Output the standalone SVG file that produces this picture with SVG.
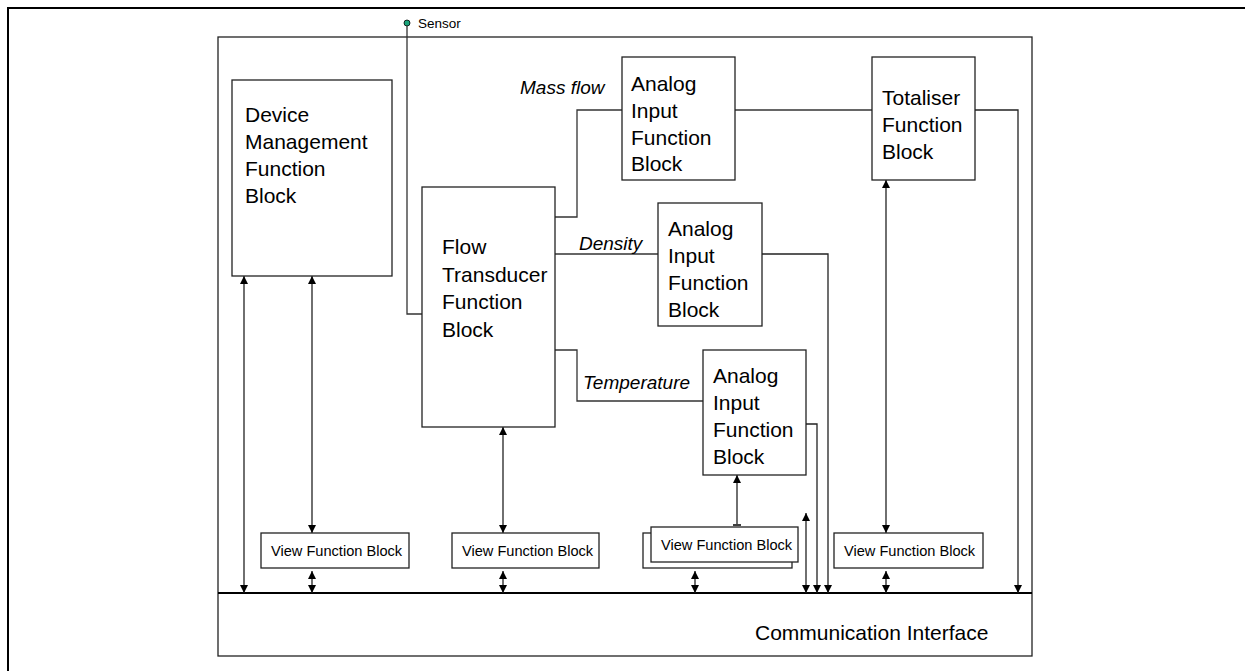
<svg xmlns="http://www.w3.org/2000/svg" width="1245" height="671" viewBox="0 0 1245 671">
<style>
.box{fill:#fff;stroke:#222;stroke-width:1.3}
.big{font-family:"Liberation Sans",Arial,sans-serif;font-size:21px;fill:#000}
.small{font-family:"Liberation Sans",Arial,sans-serif;font-size:14.6px;fill:#000}
.lbl{font-family:"Liberation Sans",Arial,sans-serif;font-size:19px;font-style:italic;fill:#000}
.ln{fill:none;stroke:#333;stroke-width:1.3}
.arr{fill:none;stroke:#222;stroke-width:1.3;marker-end:url(#ah)}
.darr{fill:none;stroke:#222;stroke-width:1.3;marker-start:url(#ahs);marker-end:url(#ah)}
</style>
<defs>
<marker id="ah" viewBox="0 0 10 10" refX="10" refY="5" markerWidth="8" markerHeight="8" markerUnits="userSpaceOnUse" orient="auto"><path d="M0,0 L10,5 L0,10 z" fill="#000"/></marker>
<marker id="ahs" viewBox="0 0 10 10" refX="0" refY="5" markerWidth="8" markerHeight="8" markerUnits="userSpaceOnUse" orient="auto"><path d="M10,0 L0,5 L10,10 z" fill="#000"/></marker>
</defs>
<rect width="1245" height="671" fill="#fff"/>
<path d="M8,671 V8 H1245" fill="none" stroke="#000" stroke-width="2"/>
<g id="main"><rect x="218" y="37" width="814" height="619" fill="none" stroke="#222" stroke-width="1.3"/></g>
<g id="comm"><line x1="218" y1="593" x2="1032" y2="593" stroke="#000" stroke-width="2"/><text class="big" x="755" y="640">Communication Interface</text></g>
<g id="sensor"><circle cx="407" cy="23" r="3" fill="#1aa37a" stroke="#000" stroke-width="0.8"/><text class="small" x="418" y="28" style="font-size:13.5px">Sensor</text></g>
<g id="connectors">
<path class="ln" d="M407,26 V314 H422"/>
<path class="ln" d="M555,217 H577 V110 H622"/>
<path class="ln" d="M735,110 H872"/>
<path class="arr" d="M975,110 H1018 V593"/>
<path class="ln" d="M555,254 H658"/>
<path class="arr" d="M762,254 H828 V593"/>
<path class="ln" d="M555,350 H577 V401 H703"/>
<path class="arr" d="M806,424 H817 V593"/>
<path class="darr" d="M806,513 V593"/>
<path class="darr" d="M244,276 V593"/>
<path class="darr" d="M312,276 V533"/>
<path class="darr" d="M503,427 V533"/>
<path class="darr" d="M886,180 V533"/>
<path class="arr" d="M737,524 V475"/>
<line x1="733" y1="525" x2="741" y2="525" stroke="#000" stroke-width="1.5"/>
<path class="darr" d="M312,571 V593"/>
<path class="darr" d="M503,571 V593"/>
<path class="darr" d="M695,571 V593"/>
<path class="darr" d="M886,571 V593"/>
</g>
<g id="device"><rect class="box" x="232" y="80" width="160" height="196"/>
<text class="big"><tspan x="245" y="122">Device</tspan><tspan x="245" y="149">Management</tspan><tspan x="245" y="176">Function</tspan><tspan x="245" y="203">Block</tspan></text></g>
<g id="flow"><rect class="box" x="422" y="187" width="133" height="240"/>
<text class="big"><tspan x="442" y="254">Flow</tspan><tspan x="442" y="282">Transducer</tspan><tspan x="442" y="309">Function</tspan><tspan x="442" y="337">Block</tspan></text></g>
<g id="ai1"><rect class="box" x="622" y="57" width="113" height="123"/>
<text class="big"><tspan x="631" y="91">Analog</tspan><tspan x="631" y="118">Input</tspan><tspan x="631" y="145">Function</tspan><tspan x="631" y="171">Block</tspan></text></g>
<g id="ai2"><rect class="box" x="658" y="203" width="104" height="123"/>
<text class="big"><tspan x="668" y="236">Analog</tspan><tspan x="668" y="263">Input</tspan><tspan x="668" y="290">Function</tspan><tspan x="668" y="317">Block</tspan></text></g>
<g id="ai3"><rect class="box" x="703" y="350" width="103" height="125"/>
<text class="big"><tspan x="713" y="383">Analog</tspan><tspan x="713" y="410">Input</tspan><tspan x="713" y="437">Function</tspan><tspan x="713" y="464">Block</tspan></text></g>
<g id="tot"><rect class="box" x="872" y="57" width="103" height="123"/>
<text class="big"><tspan x="882" y="105">Totaliser</tspan><tspan x="882" y="132">Function</tspan><tspan x="882" y="159">Block</tspan></text></g>
<g id="labels">
<text class="lbl" x="520" y="94">Mass flow</text>
<text class="lbl" x="579" y="250">Density</text>
<text class="lbl" x="583" y="389">Temperature</text>
</g>
<g id="vfb1"><rect class="box" x="261" y="533" width="148" height="35"/><text class="small" x="271" y="556">View Function Block</text></g>
<g id="vfb2"><rect class="box" x="452" y="533" width="147" height="35"/><text class="small" x="462" y="556">View Function Block</text></g>
<g id="vfb3"><rect class="box" x="643" y="533" width="149" height="35"/><rect class="box" x="651" y="527" width="147" height="35"/><text class="small" x="661" y="550">View Function Block</text></g>
<g id="vfb4"><rect class="box" x="834" y="533" width="149" height="35"/><text class="small" x="844" y="556">View Function Block</text></g>
</svg>
